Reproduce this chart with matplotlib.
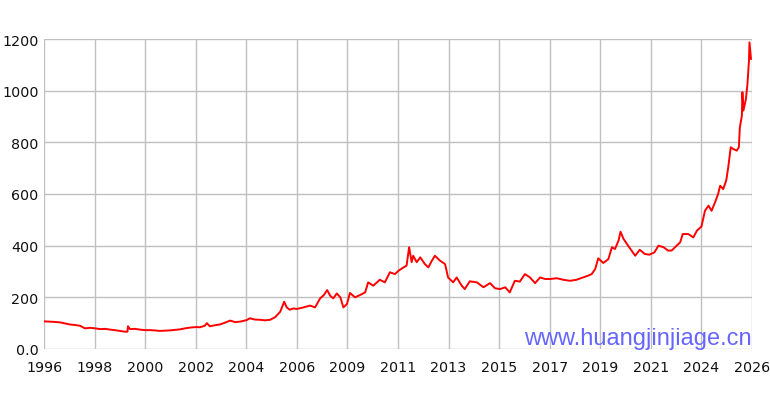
import matplotlib
matplotlib.use('Agg')
import matplotlib.pyplot as plt

# x axis is an index axis: one unit per labelled gridline
year_labels = ['1996', '1998', '2000', '2002', '2004', '2006', '2009', '2011',
               '2013', '2015', '2017', '2019', '2021', '2024', '2026']

# position along the index axis and gold price (CNY / gram)
pos = [0.00, 0.10, 0.20, 0.32, 0.42, 0.51, 0.61, 0.71, 0.81, 0.91,
       1.01, 1.11, 1.21, 1.31, 1.40, 1.50, 1.60, 1.65, 1.66, 1.70,
       1.80, 1.90, 2.00, 2.10, 2.19, 2.29, 2.39, 2.49, 2.59, 2.69,
       2.79, 2.89, 3.02, 3.08, 3.18, 3.22, 3.28, 3.38, 3.48, 3.58,
       3.68, 3.78, 3.88, 4.01, 4.07, 4.17, 4.27, 4.37, 4.47, 4.57,
       4.67, 4.75, 4.80, 4.86, 4.93, 5.00, 5.13, 5.26, 5.36, 5.46,
       5.53, 5.60, 5.66, 5.72, 5.79, 5.86, 5.92, 5.99, 6.05, 6.15,
       6.25, 6.35, 6.41, 6.51, 6.64, 6.74, 6.84, 6.94, 7.01, 7.11,
       7.17, 7.22, 7.27, 7.30, 7.37, 7.44, 7.53, 7.60, 7.67, 7.73,
       7.83, 7.93, 7.99, 8.09, 8.16, 8.26, 8.32, 8.42, 8.56, 8.69,
       8.82, 8.92, 9.02, 9.12, 9.21, 9.31, 9.41, 9.51, 9.61, 9.71,
       9.81, 9.91, 10.01, 10.14, 10.27, 10.40, 10.53, 10.66, 10.76, 10.83,
       10.90, 10.96, 11.06, 11.16, 11.23, 11.29, 11.36, 11.40, 11.46, 11.55,
       11.69, 11.78, 11.88, 11.97, 12.07, 12.15, 12.25, 12.34, 12.41, 12.51,
       12.58, 12.63, 12.74, 12.84, 12.91, 13.00, 13.07, 13.14, 13.20, 13.27,
       13.33, 13.37, 13.43, 13.49, 13.53, 13.58, 13.63, 13.70, 13.74, 13.76,
       13.80, 13.81, 13.83, 13.88, 13.91, 13.94, 13.95, 13.97, 13.98]

price = [107, 106, 105, 103, 99, 95, 93, 90, 80, 82,
         80, 77, 78, 75, 73, 70, 67, 67, 88, 77,
         78, 75, 73, 73, 72, 70, 71, 72, 74, 76,
         80, 83, 85, 84, 90, 100, 88, 92, 95, 102,
         110, 104, 106, 112, 119, 114, 113, 111, 113, 123,
         144, 183, 161, 152, 157, 155, 161, 168, 161, 196,
         208, 228, 206, 196, 215, 200, 161, 174, 217, 200,
         209, 219, 258, 245, 268, 258, 297, 290, 303, 316,
         323, 394, 336, 361, 336, 355, 329, 316, 342, 361,
         342, 329, 277, 258, 277, 245, 232, 262, 258, 239,
         255, 235, 232, 239, 219, 264, 261, 290, 277, 255,
         277, 271, 271, 274, 268, 264, 268, 277, 284, 290,
         310, 351, 333, 348, 394, 387, 419, 454, 426, 400,
         361, 384, 368, 365, 374, 400, 394, 381, 381, 400,
         413, 445, 445, 432, 458, 474, 535, 555, 535, 568,
         600, 632, 619, 652, 703, 781, 774, 768, 781, 858,
         903, 994, 923, 968, 1026, 1116, 1187, 1142, 1123]

y_ticks = [0, 200, 400, 600, 800, 1000, 1200]
y_labels = ['0.0', '200', '400', '600', '800', '1000', '1200']

fig = plt.figure(figsize=(7.7, 4.1), dpi=100)
ax = fig.add_axes([44 / 770, 60 / 410, 708 / 770, 310 / 410])

ax.plot(pos, price, color='#ff0000', linewidth=1.4, zorder=3)

ax.set_xlim(0, len(year_labels) - 1)
ax.set_ylim(0, 1200)
ax.set_xticks(range(len(year_labels)))
ax.set_xticklabels(year_labels)
ax.set_yticks(y_ticks)
ax.set_yticklabels(y_labels)

ax.grid(True, color='#c0c0c0', linewidth=1)
for s in ax.spines.values():
    s.set_visible(False)
ax.tick_params(length=0, labelsize=10.3, colors='#111111')
ax.tick_params(axis='x', pad=8)
ax.tick_params(axis='y', pad=4)

# watermark
ax.text(1.0, 0.016, 'www.huangjinjiage.cn', transform=ax.transAxes,
        ha='right', va='baseline', fontsize=17, color='#6666ff',
        family='Liberation Sans', zorder=4)

fig.savefig('out.png', dpi=100)
